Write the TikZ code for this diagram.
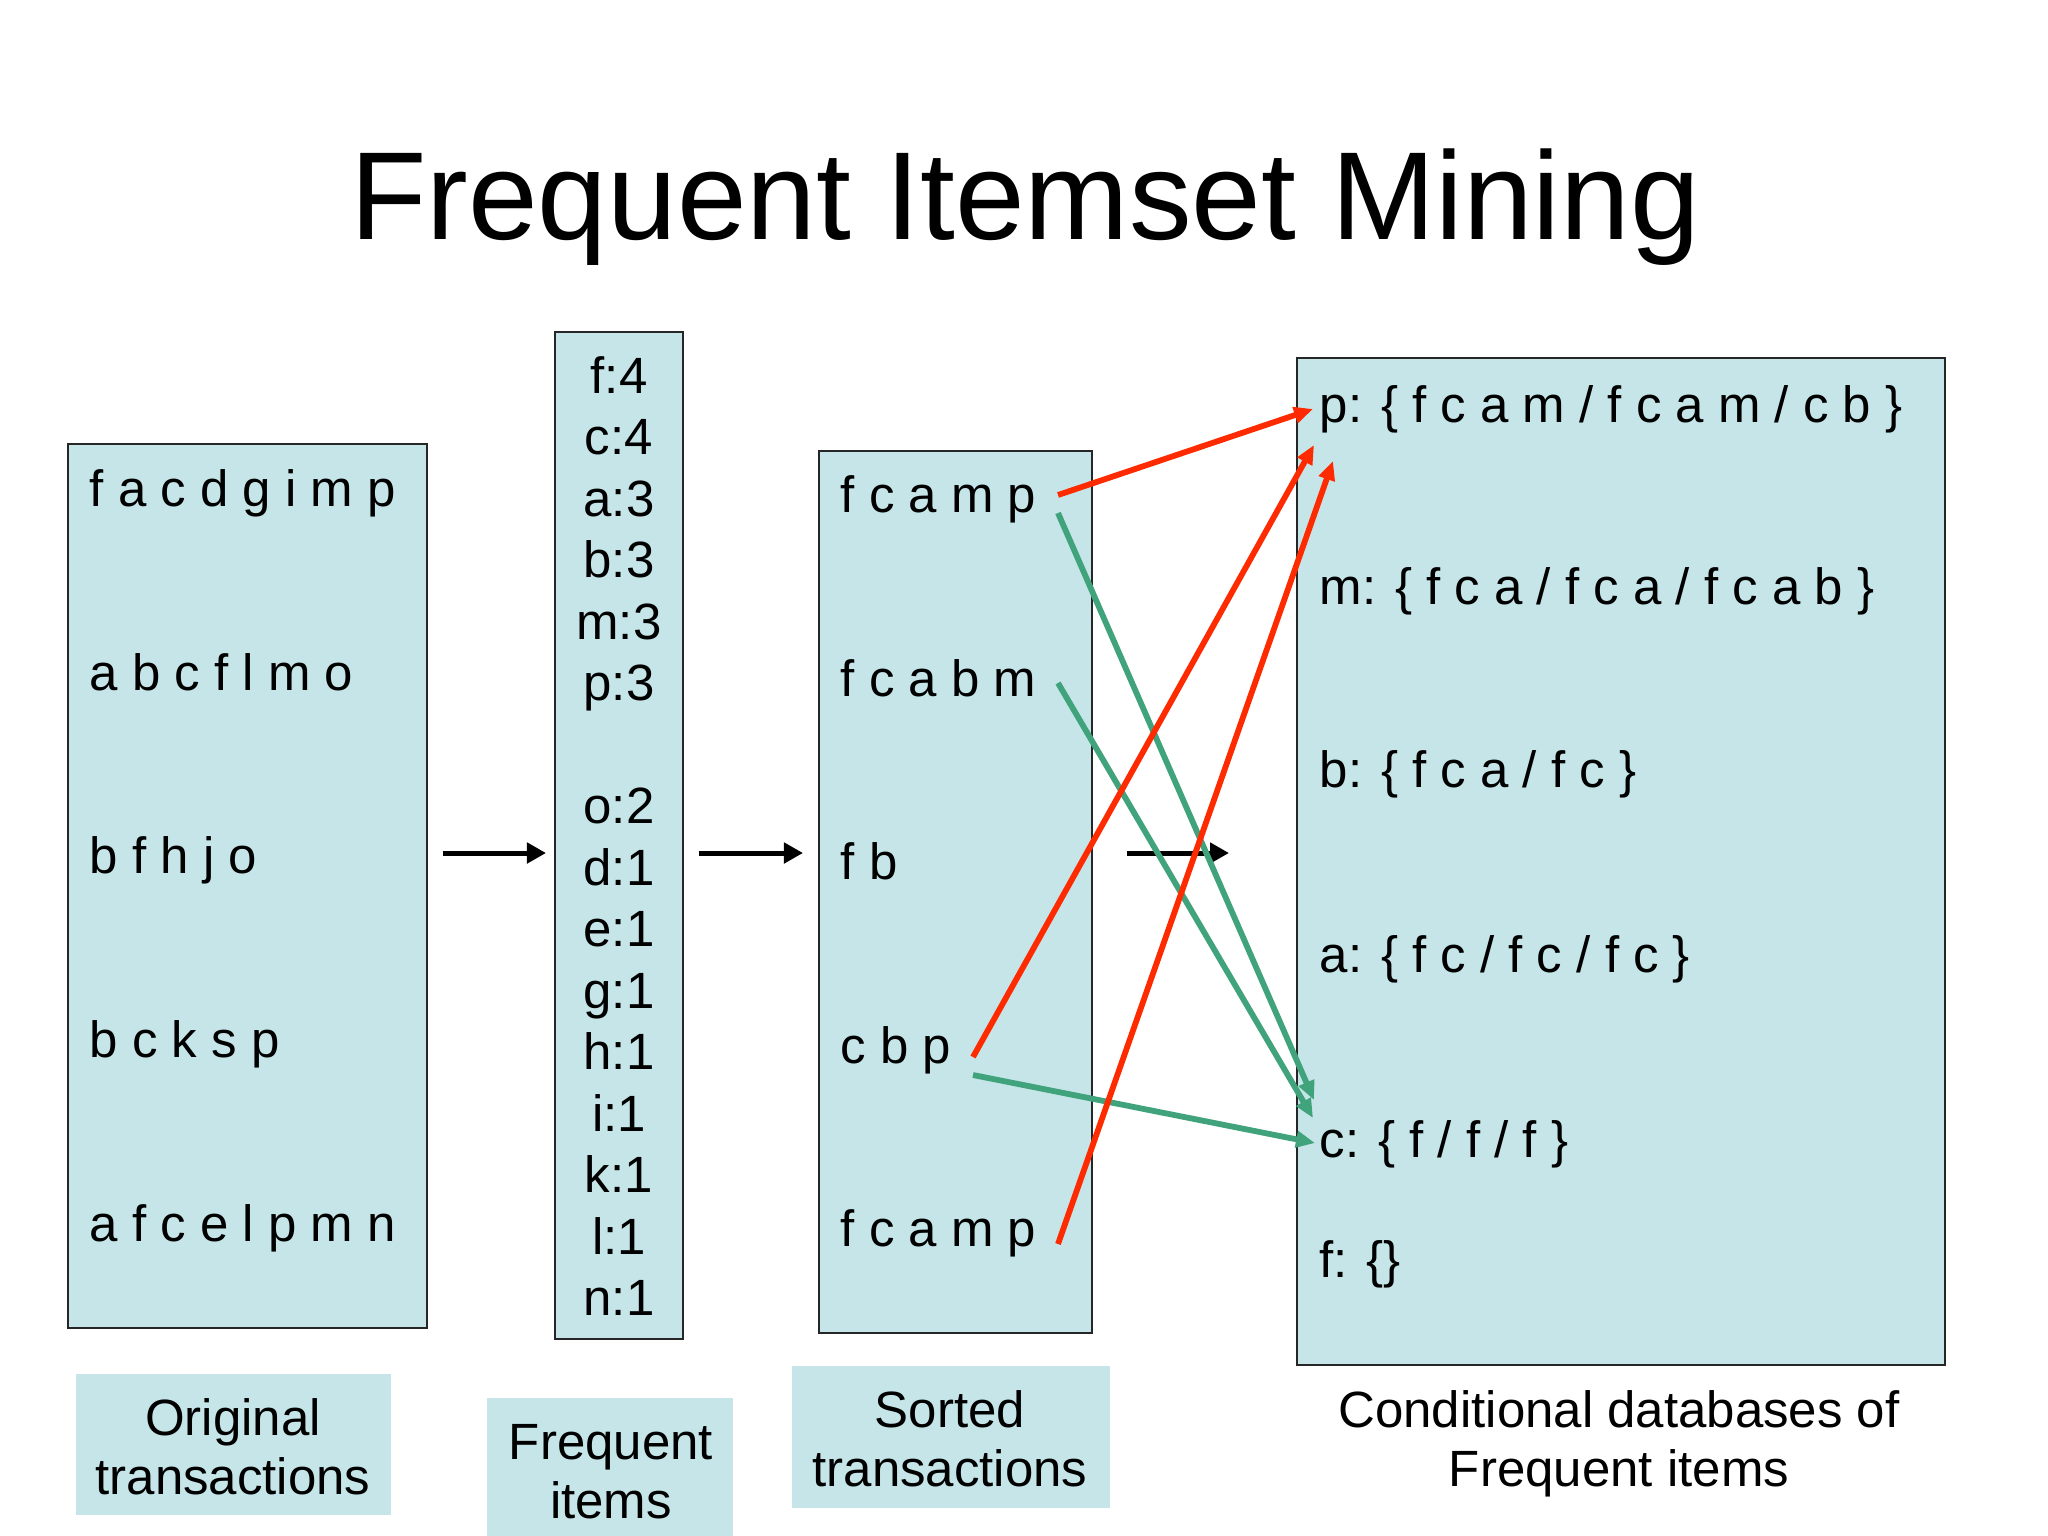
\documentclass[tikz,border=0pt]{standalone}
\usepackage{fontspec}
\setmainfont{Liberation Sans}
\usetikzlibrary{arrows.meta}
\definecolor{boxfill}{HTML}{C5E5E8}
\definecolor{redline}{HTML}{FF2B00}
\definecolor{greenline}{HTML}{40A37C}
\tikzset{
  panel/.style={draw=black!85, line width=0.022cm, fill=boxfill, inner sep=0pt, rectangle},
  labelbox/.style={fill=boxfill, inner sep=0pt, rectangle},
  itemtext/.style={inner sep=0pt, anchor=base west, font=\fontsize{14.5pt}{17pt}\selectfont},
  itemc/.style={inner sep=0pt, anchor=base, font=\fontsize{14.5pt}{17pt}\selectfont},
  flowarrow/.style={line width=0.05cm, -{Triangle[length=0.19cm, width=0.2cm]}},
  redarrow/.style={draw=redline, line width=0.058cm, -{Triangle[length=0.19cm, width=0.16cm]}},
  greenarrow/.style={draw=greenline, line width=0.058cm, -{Triangle[length=0.19cm, width=0.16cm]}},
}
\begin{document}
\begin{tikzpicture}[x=0.01cm, y=-0.01cm]
\useasboundingbox (0,0) rectangle (2048,1536);
\fill[white] (0,0) rectangle (2048,1536);

% title
\node[inner sep=0pt, anchor=base, font=\fontsize{35.6pt}{40pt}\selectfont] (title) at (1025,239) {Frequent Itemset Mining};

% panels
\node[panel, minimum width=3.59cm, minimum height=8.84cm] (b1) at (247.5,886) {};
\node[panel, minimum width=1.28cm, minimum height=10.07cm] (b2) at (619,835.5) {};
\node[panel, minimum width=2.73cm, minimum height=8.82cm] (b3) at (955.5,892) {};
\node[panel, minimum width=6.48cm, minimum height=10.07cm] (b4) at (1621,861.5) {};

% original transactions
\node[itemtext] (o1) at (89,506) {f a c d g i m p};
\node[itemtext] (o2) at (89,690) {a b c f l m o};
\node[itemtext] (o3) at (89,873) {b f h j o};
\node[itemtext] (o4) at (89,1057) {b c k s p};
\node[itemtext] (o5) at (89,1241) {a f c e l p m n};

% frequent items
\foreach \t/\k in {f:4/0, c:4/1, a:3/2, b:3/3, m:3/4, p:3/5, o:2/7, d:1/8, e:1/9, g:1/10, h:1/11, i:1/12, k:1/13, l:1/14, n:1/15}{
  \node[itemc] (fi\k) at (619,393+61.5*\k) {\t};
}

% sorted transactions
\node[itemtext] (s1) at (840,512) {f c a m p};
\node[itemtext] (s2) at (840,696) {f c a b m};
\node[itemtext] (s3) at (840,879) {f b};
\node[itemtext] (s4) at (840,1063) {c b p};
\node[itemtext] (s5) at (840,1246) {f c a m p};

% conditional databases
\node[itemtext] (cp) at (1319,422) {p: \{ f c a m / f c a m / c b \}};
\node[itemtext] (cm) at (1319,604) {m: \{ f c a / f c a / f c a b \}};
\node[itemtext] (cb) at (1319,787) {b: \{ f c a / f c \}};
\node[itemtext] (ca) at (1319,972) {a: \{ f c / f c / f c \}};
\node[itemtext] (cc) at (1319,1157) {c: \{ f / f / f \}};
\node[itemtext] (cf) at (1319,1277) {f: \{\}};

% bottom labels
\node[labelbox, minimum width=3.15cm, minimum height=1.41cm] (l1) at (233.5,1444.5) {};
\node[itemc] (l1a) at (233,1435) {Original};
\node[itemc] (l1b) at (233,1494) {transactions};
\node[labelbox, minimum width=2.46cm, minimum height=1.40cm] (l2) at (610,1468) {};
\node[itemc] (l2a) at (611,1459) {Frequent};
\node[itemc] (l2b) at (611,1518) {items};
\node[labelbox, minimum width=3.18cm, minimum height=1.42cm] (l3) at (951,1437) {};
\node[itemc] (l3a) at (950,1427) {Sorted};
\node[itemc] (l3b) at (950,1486) {transactions};
\node[itemc] (l4a) at (1619,1427) {Conditional databases of};
\node[itemc] (l4b) at (1619,1486) {Frequent items};

% flow arrows
\coordinate (a1s) at (443,853); \coordinate (a1e) at (546,853);
\coordinate (a2s) at (699,853); \coordinate (a2e) at (803,853);
\coordinate (a3s) at (1127,853); \coordinate (a3e) at (1229,853);
\draw[flowarrow] (a1s) -- (a1e);
\draw[flowarrow] (a2s) -- (a2e);
\draw[flowarrow] (a3s) -- (a3e);

% connector end points
\coordinate (r1s) at (1058,495); \coordinate (r1e) at (1313,409);
\coordinate (r2s) at (973,1057); \coordinate (r2e) at (1314,445);
\coordinate (r3s) at (1058,1244); \coordinate (r3e) at (1333,461);
\coordinate (g1s) at (1058,513); \coordinate (g1e) at (1314,1100);
\coordinate (g2s) at (1058,683); \coordinate (g2e) at (1313,1118);
\coordinate (g3s) at (973,1075); \coordinate (g3e) at (1315,1143);

\draw[greenarrow] (g1s) -- (g1e);
\draw[greenarrow] (g2s) -- (g2e);
\draw[greenarrow] (g3s) -- (g3e);
\draw[redarrow] (r1s) -- (r1e);
\draw[redarrow] (r2s) -- (r2e);
\draw[redarrow] (r3s) -- (r3e);
\end{tikzpicture}
\end{document}
